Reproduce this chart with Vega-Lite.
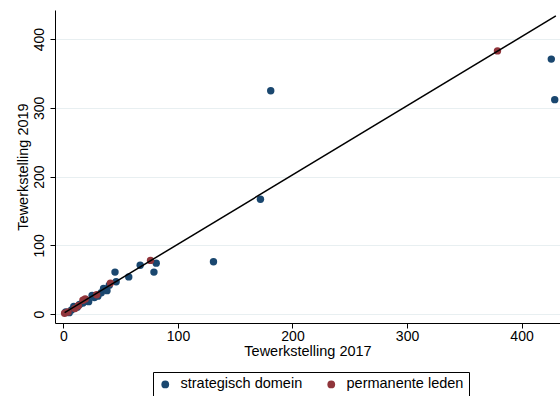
{
  "$schema": "https://vega.github.io/schema/vega-lite/v6.json",
  "width": 505,
  "height": 313,
  "autosize": "none",
  "padding": {"left": 55, "top": 10, "right": 0, "bottom": 73},
  "background": "white",
  "config": {
    "view": {"stroke": null},
    "font": "Liberation Sans",
    "axis": {"labelFont": "Liberation Sans", "titleFont": "Liberation Sans", "labelFontSize": 14, "titleFontSize": 14.5, "titleFontWeight": "normal", "labelColor": "black", "titleColor": "black", "domainColor": "black", "tickColor": "black", "tickSize": 5, "gridColor": "#e8eff1", "gridWidth": 1}
  },
  "datasets": {
    "pts": [
      {"t2017": 2, "t2019": 3, "groep": "strategisch domein"},
      {"t2017": 5, "t2019": 2, "groep": "strategisch domein"},
      {"t2017": 7, "t2019": 6, "groep": "strategisch domein"},
      {"t2017": 9, "t2019": 11, "groep": "strategisch domein"},
      {"t2017": 12, "t2019": 10, "groep": "strategisch domein"},
      {"t2017": 14, "t2019": 14, "groep": "strategisch domein"},
      {"t2017": 17, "t2019": 16, "groep": "strategisch domein"},
      {"t2017": 20, "t2019": 19, "groep": "strategisch domein"},
      {"t2017": 22, "t2019": 18, "groep": "strategisch domein"},
      {"t2017": 25, "t2019": 27, "groep": "strategisch domein"},
      {"t2017": 27, "t2019": 24, "groep": "strategisch domein"},
      {"t2017": 30, "t2019": 26, "groep": "strategisch domein"},
      {"t2017": 33, "t2019": 31, "groep": "strategisch domein"},
      {"t2017": 35, "t2019": 37, "groep": "strategisch domein"},
      {"t2017": 38, "t2019": 34, "groep": "strategisch domein"},
      {"t2017": 40, "t2019": 42, "groep": "strategisch domein"},
      {"t2017": 45, "t2019": 61, "groep": "strategisch domein"},
      {"t2017": 46, "t2019": 47, "groep": "strategisch domein"},
      {"t2017": 57, "t2019": 54, "groep": "strategisch domein"},
      {"t2017": 67, "t2019": 71, "groep": "strategisch domein"},
      {"t2017": 79, "t2019": 61, "groep": "strategisch domein"},
      {"t2017": 81, "t2019": 74, "groep": "strategisch domein"},
      {"t2017": 131, "t2019": 76, "groep": "strategisch domein"},
      {"t2017": 172, "t2019": 167, "groep": "strategisch domein"},
      {"t2017": 181, "t2019": 325, "groep": "strategisch domein"},
      {"t2017": 426, "t2019": 371, "groep": "strategisch domein"},
      {"t2017": 429, "t2019": 312, "groep": "strategisch domein"},
      {"t2017": 1, "t2019": 1, "groep": "permanente leden"},
      {"t2017": 4, "t2019": 3, "groep": "permanente leden"},
      {"t2017": 10, "t2019": 8, "groep": "permanente leden"},
      {"t2017": 13, "t2019": 12, "groep": "permanente leden"},
      {"t2017": 17, "t2019": 20, "groep": "permanente leden"},
      {"t2017": 19, "t2019": 22, "groep": "permanente leden"},
      {"t2017": 29, "t2019": 28, "groep": "permanente leden"},
      {"t2017": 41, "t2019": 45, "groep": "permanente leden"},
      {"t2017": 76, "t2019": 78, "groep": "permanente leden"},
      {"t2017": 379, "t2019": 383, "groep": "permanente leden"}
    ],
    "fit": [
      {"t2017": 1, "t2019": 2},
      {"t2017": 430, "t2019": 434}
    ]
  },
  "layer": [
    {
      "data": {"name": "pts"},
      "mark": {"type": "circle", "size": 55, "opacity": 1},
      "encoding": {
        "x": {"field": "t2017", "type": "quantitative", "scale": {"domain": [-7.4, 433.6], "nice": false, "zero": false},
          "axis": {"values": [0, 100, 200, 300, 400], "grid": false, "title": "Tewerkstelling 2017", "labelPadding": 1, "titlePadding": 1}},
        "y": {"field": "t2019", "type": "quantitative", "scale": {"domain": [-13.1, 442.5], "nice": false, "zero": false},
          "axis": {"values": [0, 100, 200, 300, 400], "grid": true, "title": "Tewerkstelling 2019", "labelAngle": -90, "labelAlign": "center", "labelBaseline": "bottom", "labelPadding": 4, "titlePadding": 2}},
        "color": {"field": "groep", "type": "nominal",
          "scale": {"domain": ["strategisch domein", "permanente leden"], "range": ["#1a476f", "#90353b"]},
          "legend": {"title": null, "orient": "none", "legendX": 98, "legendY": 362, "direction": "horizontal", "strokeColor": "black", "padding": 5, "symbolType": "circle", "symbolSize": 60, "labelFontSize": 14.5, "labelFont": "Liberation Sans", "labelColor": "black", "labelOffset": 8, "columnPadding": 21, "symbolOpacity": 1}}
      }
    },
    {
      "data": {"name": "fit"},
      "mark": {"type": "line", "color": "black", "strokeWidth": 1.5},
      "encoding": {
        "x": {"field": "t2017", "type": "quantitative"},
        "y": {"field": "t2019", "type": "quantitative"}
      }
    }
  ]
}
